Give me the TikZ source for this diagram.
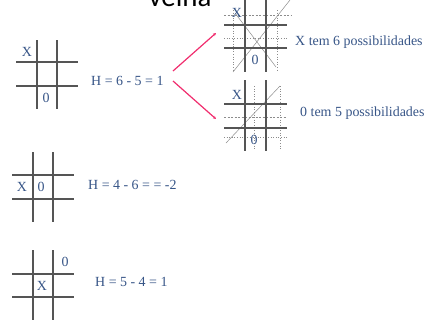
\documentclass[tikz,border=0pt]{standalone}
\usepackage{fontspec}
\setmainfont{Liberation Serif}
\newfontfamily\titlefont{Carlito}
\usetikzlibrary{arrows.meta}
\definecolor{txtblue}{RGB}{55,85,135}
\definecolor{pinkline}{RGB}{240,45,110}
\definecolor{gridgray}{RGB}{85,85,85}
\definecolor{dotgray}{RGB}{140,140,140}
\tikzset{
  gridline/.style={draw=gridgray, line width=1.2bp},
  dotline/.style={draw=dotgray, line width=0.6bp, dotted},
  dashline/.style={draw=dotgray, line width=0.6bp, dash pattern=on 2bp off 1.5bp},
  diagline/.style={draw=dotgray, line width=0.5bp},
  lbl/.style={text=txtblue, font=\fontsize{14}{16}\selectfont, inner sep=0pt},
  cell/.style={text=txtblue, font=\fontsize{14}{16}\selectfont, inner sep=0pt},
  conn/.style={draw=pinkline, line width=1.2bp, -{Stealth[length=3bp,width=3bp]}}
}
\begin{document}
\begin{tikzpicture}[x=1bp,y=-1bp]
\useasboundingbox (0,0) rectangle (430,322);
% title (cut at top)
\node[font=\titlefont\fontsize{29}{30}\selectfont, anchor=base, inner sep=0pt] (title) at (180,6) {velha};

% board 1
\draw[gridline] (37,40) -- (37,109) (57,40) -- (57,109);
\draw[gridline] (16,62) -- (78,62) (16,86) -- (78,86);
\node[cell] (b1x) at (27,52) {X};
\node[cell] (b1o) at (46,98) {0};
\node[lbl, anchor=west] (h1) at (91,81) {H = 6 - 5 = 1};

% board 2 (top right)
\draw[dashline] (224,15) -- (292,15);
\draw[dotline] (224,38) -- (287,38);
\draw[dotline] (233,10) -- (233,72) (277,10) -- (277,72);
\draw[diagline] (235,13) -- (276,67) (290,0) -- (233,72);
\draw[gridline] (245,0) -- (245,72) (266,0) -- (266,72);
\draw[gridline] (224,25) -- (287,25) (224,48) -- (287,48);
\node[cell] (b2x) at (237,13) {X};
\node[cell] (b2o) at (255,60) {0};
\node[lbl, anchor=west] (t2) at (295,42) {X tem 6 possibilidades};

% board 3
\draw[dashline] (224,117) -- (287,117);
\draw[dotline] (224,137) -- (287,137);
\draw[dotline] (254,86) -- (254,150) (280,86) -- (280,150);
\draw[diagline] (226,143) -- (280,86);
\draw[gridline] (245,80) -- (245,151) (266,80) -- (266,151);
\draw[gridline] (224,104) -- (287,104) (224,128) -- (287,128);
\node[cell] (b3x) at (237,95) {X};
\node[cell] (b3o) at (254,140) {0};
\node[lbl, anchor=west] (t3) at (300,113) {0 tem 5 possibilidades};

% connectors
\coordinate (s1) at (173,71);
\coordinate (e1) at (216,33);
\coordinate (s2) at (173,81);
\coordinate (e2) at (216,119);
\draw[conn] (s1) -- (e1);
\draw[conn] (s2) -- (e2);

% board 4
\draw[gridline] (33,152) -- (33,222) (53,152) -- (53,222);
\draw[gridline] (12,175) -- (74,175) (12,199) -- (74,199);
\node[cell] (b4x) at (22,187) {X};
\node[cell] (b4o) at (41,187) {0};
\node[lbl, anchor=west] (h4) at (88,185) {H = 4 - 6 = = -2};

% board 5
\draw[gridline] (33,250) -- (33,320) (53,250) -- (53,320);
\draw[gridline] (12,274) -- (74,274) (12,297) -- (74,297);
\node[cell] (b5o) at (65,262) {0};
\node[cell] (b5x) at (42,286) {X};
\node[lbl, anchor=west] (h5) at (95,282) {H = 5 - 4 = 1};
\end{tikzpicture}
\end{document}
